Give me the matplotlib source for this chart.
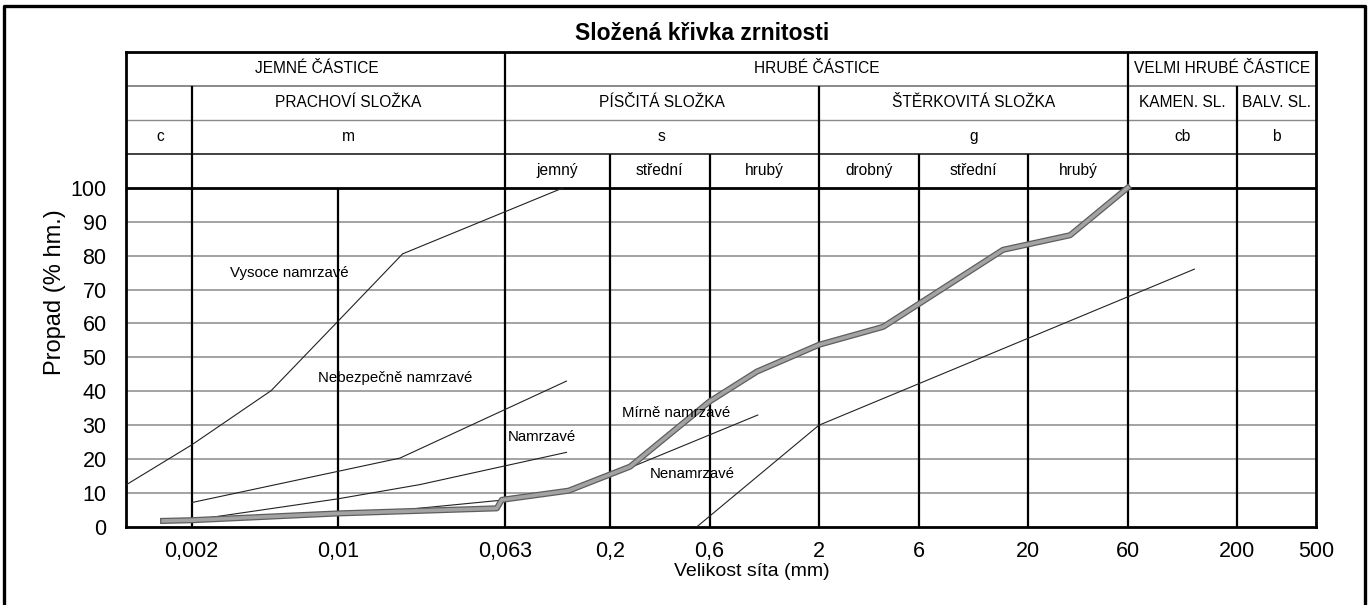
import matplotlib.pyplot as plt
from matplotlib.lines import Line2D
from matplotlib.ticker import NullLocator

plt.rcParams['font.family'] = ['Liberation Sans', 'DejaVu Sans']

# =====================================================================
# DATA
# =====================================================================
# osa x (velikost síta, mm)
x_ticks = [0.002, 0.01, 0.063, 0.2, 0.6, 2, 6, 20, 60, 200, 500]
x_tick_labels = ['0,002', '0,01', '0,063', '0,2', '0,6', '2', '6', '20', '60', '200', '500']
y_ticks = [0, 10, 20, 30, 40, 50, 60, 70, 80, 90, 100]

# svislé hranice frakcí a výška, do které sahají (hlavička = 100..140)
boundaries = [0.002, 0.01, 0.063, 0.2, 0.6, 2, 6, 20, 60, 200]
boundary_tops = [130, 100, 140, 110, 110, 130, 110, 110, 140, 130]

# hlavička tabulky: (od, do, text) po řádcích
row_castice = [(0.001, 0.063, 'JEMNÉ ČÁSTICE'), (0.063, 60, 'HRUBÉ ČÁSTICE'),
               (60, 500, 'VELMI HRUBÉ ČÁSTICE')]
row_slozka = [(0.002, 0.063, 'PRACHOVÍ SLOŽKA'), (0.063, 2, 'PÍSČITÁ SLOŽKA'),
              (2, 60, 'ŠTĚRKOVITÁ SLOŽKA'), (60, 200, 'KAMEN. SL.'), (200, 480, 'BALV. SL.')]
row_symbol = [(0.001, 0.002, 'c'), (0.002, 0.063, 'm'), (0.063, 2, 's'),
              (2, 60, 'g'), (60, 200, 'cb'), (200, 480, 'b')]
row_podfrakce = [(0.063, 0.2, 'jemný'), (0.2, 0.6, 'střední'), (0.6, 2, 'hrubý'),
                 (2, 6, 'drobný'), (6, 20, 'střední'), (20, 60, 'hrubý')]

# hraniční křivky namrzavosti
vysoce_x = [0.00097, 0.002, 0.0048, 0.01, 0.0204, 0.12]
vysoce_y = [12.4, 24.2, 40.2, 60.6, 80.5, 100]
nebezpecne_x = [0.002, 0.0198, 0.124]
nebezpecne_y = [7.2, 20.3, 43]
namrzave_x = [0.002, 0.01, 0.0247, 0.124]
namrzave_y = [2, 8.3, 12.5, 22]
mirne_x = [0.002, 0.02, 0.063, 0.125, 0.25, 1.02]
mirne_y = [1.8, 5, 8, 10.5, 17.5, 33]
nenamrzave_x = [0.52, 2, 125]
nenamrzave_y = [0, 30, 76]

# složená křivka zrnitosti (vzorek)
sample_x = [0.00146, 0.002, 0.01, 0.0576, 0.0608, 0.127, 0.25, 0.6, 1.01, 2, 4.06, 15.2, 31.8, 60]
sample_y = [1.8, 2, 4, 5.5, 8, 10.7, 17.8, 37, 45.8, 53.7, 59, 81.7, 86, 100]

# popisky křivek
curve_labels = ['Vysoce namrzavé', 'Nebezpečně namrzavé', 'Namrzavé', 'Mírně namrzavé', 'Nenamrzavé']
curve_label_x = [0.00305, 0.00804, 0.0652, 0.228, 0.311]
curve_label_y = [75, 44, 26.6, 33.7, 15.5]

# =====================================================================
# GRAF
# =====================================================================
W, H = 1371, 605
fig = plt.figure(figsize=(W / 100, H / 100), dpi=100)
ax = fig.add_axes([126 / W, 1 - 527 / H, 1190 / W, 475 / H])
ax.set_xscale('log')
ax.set_xlim(0.00097, 477)
ax.set_ylim(0, 140)

# mřížka
for yv in y_ticks[1:-1]:
    ax.axhline(yv, color='#8a8a8a', lw=1.1, zorder=1)
ax.axhline(100, color='black', lw=2.0, zorder=3)
ax.axhline(110, color='#333333', lw=1.3, zorder=2)
ax.axhline(120, color='#8a8a8a', lw=1.0, zorder=2)
ax.axhline(130, color='#777777', lw=1.2, zorder=2)
ax.vlines(boundaries, 0, boundary_tops, color='black', lw=1.6, zorder=3)

# hlavička
for row, yc in [(row_castice, 135), (row_slozka, 125), (row_symbol, 115), (row_podfrakce, 105)]:
    for x0, x1, txt in row:
        x0, x1 = max(x0, 0.00097), min(x1, 477)
        ax.text((x0 * x1) ** 0.5, yc, txt, ha='center', va='center', fontsize=11.2)

# křivky
for xs, ys in [(vysoce_x, vysoce_y), (nebezpecne_x, nebezpecne_y), (namrzave_x, namrzave_y),
               (mirne_x, mirne_y), (nenamrzave_x, nenamrzave_y)]:
    ax.plot(xs, ys, color='#222222', lw=0.8, zorder=4)

ax.plot(sample_x, sample_y, color='#5e5e5e', lw=4.4, zorder=5, solid_joinstyle='round')
ax.plot(sample_x, sample_y, color='#a3a3a3', lw=2.6, zorder=6, solid_joinstyle='round')

for txt, xv, yv in zip(curve_labels, curve_label_x, curve_label_y):
    ax.text(xv, yv, txt, ha='left', va='center', fontsize=10.8, zorder=7)

# osy (popisek 500 leží na pravém okraji osy)
xmax = ax.get_xlim()[1]
ax.set_xticks([min(t, xmax) for t in x_ticks])
ax.set_xticklabels(x_tick_labels)
ax.xaxis.set_minor_locator(NullLocator())
ax.set_yticks(y_ticks)
ax.tick_params(length=0, labelsize=15.5)
ax.tick_params(axis='x', pad=10)
ax.tick_params(axis='y', pad=14)
for sp in ax.spines.values():
    sp.set_linewidth(2.0)

fig.text(55 / W, 1 - 292 / H, 'Propad (% hm.)', rotation=90, ha='center', va='center', fontsize=17)
fig.text(752 / W, 1 - 572 / H, 'Velikost síta (mm)', ha='center', va='center', fontsize=14)
fig.text(702 / W, 1 - 33 / H, 'Složená křivka zrnitosti', ha='center', va='center',
         fontsize=16.5, fontweight='bold')

# rámeček
x0, x1, yt = 4 / W, 1365 / W, 1 - 6 / H
fig.add_artist(Line2D([x0, x0, x1, x1], [0, yt, yt, 0], transform=fig.transFigure,
                      color='black', lw=2.4))

fig.savefig('out.png', dpi=100)
